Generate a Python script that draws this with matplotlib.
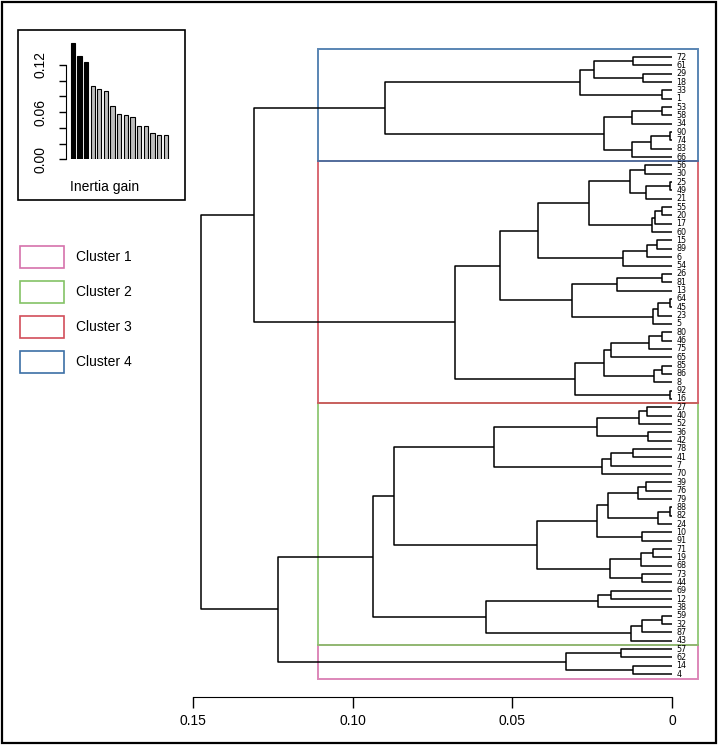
import matplotlib
matplotlib.use("Agg")
import matplotlib.pyplot as plt
from matplotlib.patches import Rectangle

plt.rcParams['font.family'] = ['Liberation Sans', 'DejaVu Sans']

# tree merges: child a, child b, height (int = earlier merge, str = leaf label)
merge_a = ["72", "29", 0, "33", 2, "53", 5, "90", 7, 8, 6, 4,
           "56", "25", 13, 12, "55", 16, 17, 15, "15", 20, 21, 19,
           "26", 24, "64", 26, 27, 25, 23, "80", 31, 32, "85", 34, 33, "92", 36, 30, 11,
           "27", 41, "36", 42, "78", 45, 46, 44, "39", 49, "88", 51, 50, "10", 53,
           "71", 56, "73", 57, 55, 48, "69", 62, "59", 64, 65, 63, 61,
           "57", "14", 69, 68, 40]
merge_b = ["61", "18", 1, "1", 3, "58", "34", "74", "83", "66", 9, 10,
           "30", "49", "21", 14, "20", "17", "60", 18, "89", "6", "54", 22,
           "81", "13", "45", "23", "5", 28, 29, "46", "75", "65", "86", "8", 35, "16", 37, 38, 39,
           "40", "52", "42", 43, "41", "7", "70", 47, "76", "79", "82", "24", 52, "91", 54,
           "19", "68", "44", 58, 59, 60, "12", "38", "32", "87", "43", 66, 67,
           "62", "4", 70, 71, 72]
merge_h = [0.0121, 0.0090, 0.0243, 0.0030, 0.0288, 0.0032, 0.0126, 0.0006, 0.0067, 0.0125, 0.0214, 0.0899,
           0.0084, 0.0006, 0.0082, 0.0131, 0.0032, 0.0053, 0.0062, 0.0259, 0.0046, 0.0079, 0.0155, 0.0420,
           0.0032, 0.0173, 0.0006, 0.0043, 0.0058, 0.0313, 0.0540, 0.0032, 0.0071, 0.0192, 0.0032, 0.0056,
           0.0213, 0.0006, 0.0303, 0.0678, 0.1310,
           0.0077, 0.0103, 0.0074, 0.0235, 0.0121, 0.0191, 0.0219, 0.0558, 0.0082, 0.0107, 0.0006, 0.0043,
           0.0199, 0.0095, 0.0235, 0.0058, 0.0097, 0.0095, 0.0194, 0.0423, 0.0871, 0.0192, 0.0232, 0.0032,
           0.0095, 0.0129, 0.0582, 0.0935,
           0.0159, 0.0123, 0.0331, 0.1234, 0.1475]

cluster_names = ['Cluster 1', 'Cluster 2', 'Cluster 3', 'Cluster 4']
cluster_colors = ['#D672AC', '#84C266', '#D24E5A', '#3C70A6']
cluster_nodes = [71, 68, 39, 11]   # merge that holds each cluster
cut_height = 0.111

inertia_gain = [0.1475, 0.1310, 0.1234, 0.0935, 0.0899, 0.0871, 0.0678, 0.0582,
                0.0558, 0.0540, 0.0423, 0.0420, 0.0331, 0.0313, 0.0303]

W, H = 719, 746
fig = plt.figure(figsize=(W / 100, H / 100), dpi=100)

# main dendrogram axes
ax = fig.add_axes([193 / W, 1 - 697 / H, 479 / W, 657 / H])
ax.set_xlim(0.15, 0)
ax.set_ylim(76.74, -2.04)


def leaves_of(node, out):
    if isinstance(node, str):
        out.append(node)
    else:
        leaves_of(merge_a[node], out)
        leaves_of(merge_b[node], out)
    return out


leaf_order = leaves_of(len(merge_h) - 1, [])
ypos = {name: i for i, name in enumerate(leaf_order)}


def draw(node):
    if isinstance(node, str):
        return 0.0, ypos[node]
    ha, ya = draw(merge_a[node])
    hb, yb = draw(merge_b[node])
    h = merge_h[node]
    ax.plot([ha, h, h, hb], [ya, ya, yb, yb], color='black', lw=1.1,
            solid_capstyle='butt', clip_on=False)
    return h, (ya + yb) / 2


draw(len(merge_h) - 1)

for name, i in ypos.items():
    ax.text(-0.0013, i, name, fontsize=5.8, family='DejaVu Sans',
            ha='left', va='center', clip_on=False)

n = len(leaf_order)
for node, col in zip(cluster_nodes, cluster_colors):
    lv = [ypos[k] for k in leaves_of(node, [])]
    lo = min(lv) - 0.5 if min(lv) > 0 else -0.95
    hi = max(lv) + 0.5 if max(lv) < n - 1 else max(lv) + 0.6
    ax.add_patch(Rectangle((-0.0081, lo), cut_height + 0.0081, hi - lo, fill=False,
                           ec=col, lw=1.4, alpha=0.85, clip_on=False))

for s in ['top', 'right', 'left']:
    ax.spines[s].set_visible(False)
ax.spines['bottom'].set_bounds(0, 0.15)
ax.set_xticks([0.15, 0.10, 0.05, 0])
ax.set_xticklabels(['0.15', '0.10', '0.05', '0'], fontsize=10)
ax.tick_params(axis='x', direction='out', length=8, width=1, pad=4)
ax.set_yticks([])

# inertia gain inset
ins = fig.add_axes([66 / W, 1 - 159.3 / H, 106 / W, 119.3 / H])
bar_colors = ['black'] * 3 + ['#BEBEBE'] * (len(inertia_gain) - 3)
ins.bar(range(len(inertia_gain)), inertia_gain, width=0.65, color=bar_colors,
        edgecolor='black', lw=0.8)
ins.set_xlim(-1.02, 14.94)
ins.set_ylim(0, 0.1518)
for s in ['top', 'right', 'bottom']:
    ins.spines[s].set_visible(False)
ins.spines['left'].set_bounds(0, 0.12)
ins.set_xticks([])
ins.set_yticks([0, 0.02, 0.04, 0.06, 0.08, 0.10, 0.12])
ins.set_yticklabels(['0.00', '', '', '0.06', '', '', '0.12'], rotation=90, va='center', fontsize=10)
ins.tick_params(axis='y', direction='out', length=5, width=1, pad=8)

fig.add_artist(Rectangle((18 / W, 1 - 200 / H), 167 / W, 170 / H, transform=fig.transFigure,
                         fill=False, ec='black', lw=1.2))
fig.text(105 / W, 1 - 187 / H, 'Inertia gain', fontsize=10, ha='center', va='center')

# legend boxes
for k, (name, col) in enumerate(zip(cluster_names, cluster_colors)):
    yc = 257 + 35 * k
    fig.add_artist(Rectangle((20 / W, 1 - (yc + 11) / H), 44 / W, 22 / H,
                             transform=fig.transFigure, fill=False, ec=col, lw=1.2))
    fig.text(76 / W, 1 - yc / H, name, fontsize=10, ha='left', va='center')

# outer frame
fig.add_artist(Rectangle((2 / W, 3 / H), 714 / W, 741 / H, transform=fig.transFigure,
                         fill=False, ec='black', lw=1.6))

fig.savefig('out.png', dpi=100)
